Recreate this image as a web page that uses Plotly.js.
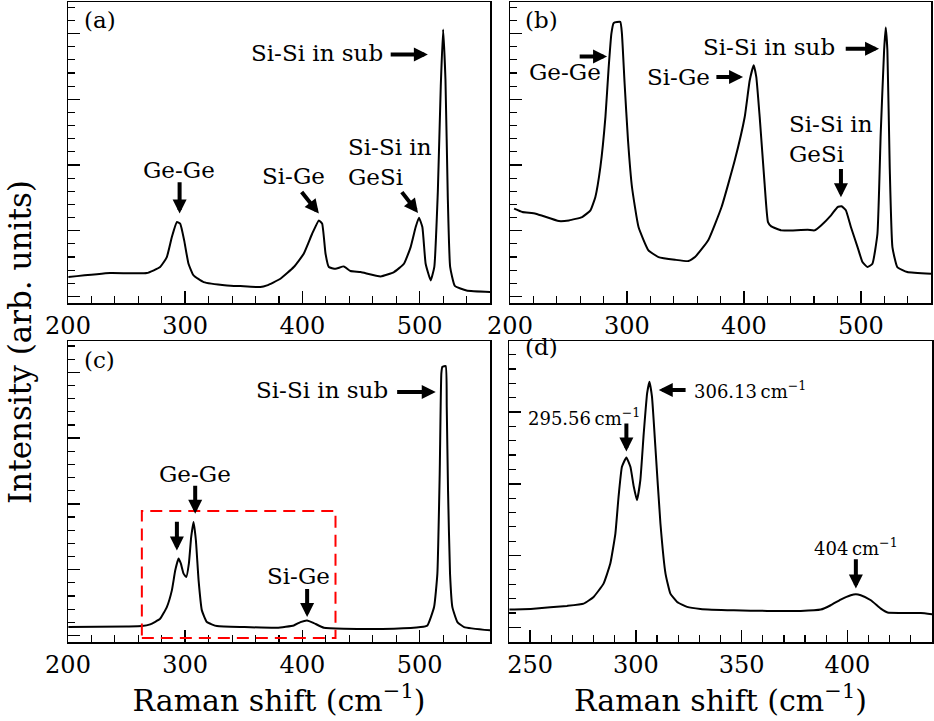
<!DOCTYPE html>
<html>
<head>
<meta charset="utf-8">
<script src="https://cdn.plot.ly/plotly-3.0.1.min.js"></script>
<style>html,body{margin:0;padding:0;background:#fff;}#chart{width:934px;height:721px;}</style>
</head>
<body>
<div id="chart"></div>
<script>
// Panel (a)
const aX = [200.3,235.9,267.2,278.6,284.3,288.6,292.9,295.7,299.1,302.8,307.1,315.7,335.6,347,364.1,369.8,381.2,392.6,401.1,408.3,414,416.8,419.7,422.5,428.2,435.3,441,449.6,466.7,478.1,486.6,492.3,496.6,499.4,502.3,505.1,509.4,512.5,515.5,518,520,522,524,526,530,540,560.7];
const aY = [0.294,0.355,0.355,0.447,0.599,0.904,1.132,1.107,0.853,0.497,0.320,0.218,0.168,0.157,0.142,0.168,0.269,0.447,0.650,0.954,1.157,1.107,0.650,0.447,0.421,0.457,0.386,0.371,0.305,0.371,0.497,0.751,1.056,1.198,1.056,0.497,0.244,0.45,1.6,3.2,4.06,3.3,1.5,0.45,0.16,0.09,0.066];
// Panel (b)
const bX = [203.5,210.6,222,241.8,250.4,261.7,268.8,273,277.3,281.6,284.4,286.7,288.7,294.3,295.7,298,300.9,304.3,309.9,318.4,327,341.1,352.5,358.2,369.5,380.9,392.2,400.7,405,408.4,410.6,413.5,417.7,420.6,423.4,431.9,440.4,454.6,460.3,466,474.5,480.1,483.5,487.2,491.5,497.2,501.4,505.7,509.9,514.2,517,519.9,521.3,522.7,524.7,527,531.2,539.7,560];
const bY = [1.335,1.284,1.259,1.147,1.157,1.208,1.310,1.513,1.970,2.731,3.492,4.0,4.162,4.178,4.0,3.239,2.376,1.665,1.056,0.701,0.599,0.558,0.538,0.599,0.853,1.360,2.071,2.731,3.289,3.518,3.340,2.731,1.716,1.132,1.066,1.005,1.005,1.015,1.005,1.081,1.234,1.360,1.371,1.310,1.056,0.751,0.523,0.447,0.497,0.954,2.477,3.746,4.091,3.746,1.970,0.751,0.447,0.371,0.345];
// Panel (c)
const cX = [200.3,250.1,263,270.1,278.6,284.3,288.6,291.5,294.3,296.3,298.6,300.9,303.1,305.1,307.1,309.1,311.4,314.2,318.5,327.1,349.9,378.3,392.6,398.3,404,409.7,418.2,435.3,478.1,500.9,506.6,512.3,515.1,517.1,518.5,519.4,522.2,523.1,524.2,525.9,527.9,532.2,537.9,560.7];
const cY = [0.127,0.137,0.142,0.168,0.254,0.431,0.685,0.990,1.168,1.091,0.939,0.888,1.091,1.497,1.726,1.447,0.838,0.381,0.203,0.142,0.127,0.117,0.152,0.203,0.228,0.188,0.117,0.102,0.102,0.127,0.152,0.431,0.939,2.462,3.985,4.086,4.096,3.477,2.208,0.939,0.431,0.203,0.127,0.076];
// Panel (d)
const dX = [240.2,251.6,267.4,275.3,280,284.7,287.9,290.3,291.8,293.4,295.5,297.4,299,300.5,302.1,303.7,305.3,306.4,307.6,309.2,311.6,314,316.3,319.5,324.2,330.5,346.3,362.1,377.9,387.4,392.1,396.8,401.6,404,406.3,411.1,415.8,419,425.3,434.7,440.3];
const dY = [0.247,0.260,0.298,0.330,0.423,0.609,0.888,1.307,1.819,2.237,2.367,2.237,1.958,1.772,2.051,2.702,3.260,3.423,3.214,2.516,1.447,0.749,0.470,0.353,0.284,0.256,0.237,0.228,0.228,0.247,0.307,0.386,0.447,0.460,0.447,0.377,0.260,0.205,0.200,0.200,0.181];

const xTickVals = [200,300,400,500];
const dTickVals = [250,300,350,400];
const xTitle = 'Raman shift (cm<sup>\u22121</sup>)';
const yTitle = 'Intensity (arb. units)';

const FONT = "'DejaVu Serif', 'Liberation Serif', serif";
const lineStyle = {color:'black', width:2, shape:'spline', smoothing:0.4};
const ANN = 23;

const traces = [
  {x:aX, y:aY, xaxis:'x', yaxis:'y', mode:'lines', line:lineStyle, hoverinfo:'skip'},
  {x:bX, y:bY, xaxis:'x2', yaxis:'y2', mode:'lines', line:lineStyle, hoverinfo:'skip'},
  {x:cX, y:cY, xaxis:'x3', yaxis:'y3', mode:'lines', line:lineStyle, hoverinfo:'skip'},
  {x:dX, y:dY, xaxis:'x4', yaxis:'y4', mode:'lines', line:lineStyle, hoverinfo:'skip'}
];

function xa(domain, range, anchor, vals, minorD, title){
  const o = {domain:domain, range:range, anchor:anchor, showgrid:false, zeroline:false,
    showline:true, linecolor:'black', linewidth:1.5, mirror:true,
    ticks:'inside', ticklen:12, tickwidth:1.5, tickcolor:'black',
    tickmode:'array', tickvals:vals, ticklabelstandoff:1,
    minor:{ticks:'inside', ticklen:7, tickwidth:1.2, tickcolor:'black', dtick:minorD, tick0:0, showgrid:false},
    tickfont:{family:FONT, size:24, color:'black'}};
  if (title) o.title = {text:title, font:{family:FONT, size:30, color:'black'}, standoff:4};
  return o;
}
function ya(domain, range, anchor){
  return {domain:domain, range:range, anchor:anchor, showgrid:false, zeroline:false,
    showline:true, linecolor:'black', linewidth:1.5, mirror:true,
    ticks:'inside', ticklen:12, tickwidth:1.5, tickcolor:'black',
    tick0:0, dtick:1, showticklabels:false,
    minor:{ticks:'inside', ticklen:7, tickwidth:1.2, tickcolor:'black', dtick:0.2, tick0:0, showgrid:false}};
}

const W = 934, H = 721;
const dx = (a,b)=>[a/W, b/W];
const dy = (top,bot)=>[(H-bot)/H, (H-top)/H];

function txt(xref, yref, x, y, text, xanchor, size, align){
  return {xref:xref, yref:yref, x:x, y:y, text:text, showarrow:false, xanchor:xanchor||'center', yanchor:'middle',
    align:align||'center', font:{family:FONT, size:size||ANN, color:'black'}};
}
function arr(xref, yref, x, y, ax, ay){
  return {xref:xref, yref:yref, axref:xref, ayref:yref, x:x, y:y, ax:ax, ay:ay, text:'', showarrow:true,
    arrowhead:2, arrowsize:0.7, arrowwidth:4, arrowcolor:'black', standoff:0, startstandoff:0};
}

const annotations = [
  // (a)
  txt('x','y',212,4.2,'(a)','left'),
  txt('x','y',470,3.70,'Si-Si in sub','right'),
  arr('x','y',507,3.68,474,3.68),
  txt('x','y',294.3,1.92,'Ge-Ge'),
  arr('x','y',295.2,1.26,295.2,1.76),
  txt('x','y',392.6,1.84,'Si-Ge'),
  arr('x','y',414,1.26,398.3,1.61),
  txt('x','y',437,2.05,'Si-Si in<br>GeSi','left',ANN,'left'),
  arr('x','y',498.6,1.27,483.8,1.61),
  // (b)
  txt('x2','y2',211,4.2,'(b)','left'),
  txt('x2','y2',247.2,3.42,'Ge-Ge'),
  arr('x2','y2',283,3.65,258.3,3.65),
  txt('x2','y2',372.3,3.34,'Si-Ge','right'),
  arr('x2','y2',399.3,3.34,375.2,3.34),
  txt('x2','y2',480,3.80,'Si-Si in sub','right'),
  arr('x2','y2',515.6,3.77,485.8,3.77),
  txt('x2','y2',437,2.40,'Si-Si in<br>GeSi','left',ANN,'left'),
  arr('x2','y2',483,1.51,483,1.96),
  // (c)
  txt('x3','y3',212,4.19,'(c)','left'),
  txt('x3','y3',475,3.73,'Si-Si in sub','right'),
  arr('x3','y3',513.7,3.70,479.5,3.70),
  txt('x3','y3',308.5,2.46,'Ge-Ge'),
  arr('x3','y3',308.5,1.85,308.5,2.30),
  arr('x3','y3',292.9,1.29,292.9,1.75),
  txt('x3','y3',396.3,0.91,'Si-Ge'),
  arr('x3','y3',404,0.28,404,0.73),
  // (d)
  txt('x4','y4',246.5,3.9,'(d)','left'),
  txt('x4','y4',326.5,3.307,'306.13\u2009cm<sup>\u22121</sup>','left',18),
  arr('x4','y4',310.8,3.307,324.2,3.307),
  txt('x4','y4',275.3,2.93,'295.56\u2009cm<sup>\u22121</sup>','center',18),
  arr('x4','y4',295.5,2.45,295.5,2.86),
  txt('x4','y4',404,1.12,'404\u2009cm<sup>\u22121</sup>','center',18),
  arr('x4','y4',404,0.54,404,0.97),
  // y title
  {xref:'paper', yref:'paper', x:20/W, y:(H-342)/H, text:yTitle, showarrow:false, textangle:-90,
   xanchor:'center', yanchor:'middle', font:{family:FONT, size:31, color:'black'}}
];

const layout = {
  width:W, height:H, margin:{l:0,r:0,t:0,b:0}, paper_bgcolor:'white', plot_bgcolor:'white',
  showlegend:false, font:{family:FONT, color:'black'},
  xaxis: xa(dx(68,490), [200,560], 'y', xTickVals, 20, null),
  yaxis: ya(dy(2,303), [-0.10,4.48], 'x'),
  xaxis2: xa(dx(510,931), [200,560], 'y2', xTickVals, 20, null),
  yaxis2: ya(dy(2,303), [-0.10,4.48], 'x2'),
  xaxis3: xa(dx(68,490), [200,560], 'y3', xTickVals, 20, xTitle),
  yaxis3: ya(dy(341,642), [-0.10,4.477], 'x3'),
  xaxis4: xa(dx(509,932), [240,440], 'y4', dTickVals, 10, xTitle),
  yaxis4: ya(dy(341,642), [-0.205,3.99], 'x4'),
  annotations: annotations,
  shapes: [
    {type:'rect', xref:'x3', yref:'y3', x0:263, x1:428.2, y0:-0.04, y1:1.893,
     line:{color:'#ff0000', width:2, dash:'12px,7px'}, fillcolor:'rgba(0,0,0,0)'}
  ]
};

Plotly.newPlot('chart', traces, layout, {staticPlot:true, displayModeBar:false});
</script>
</body>
</html>
